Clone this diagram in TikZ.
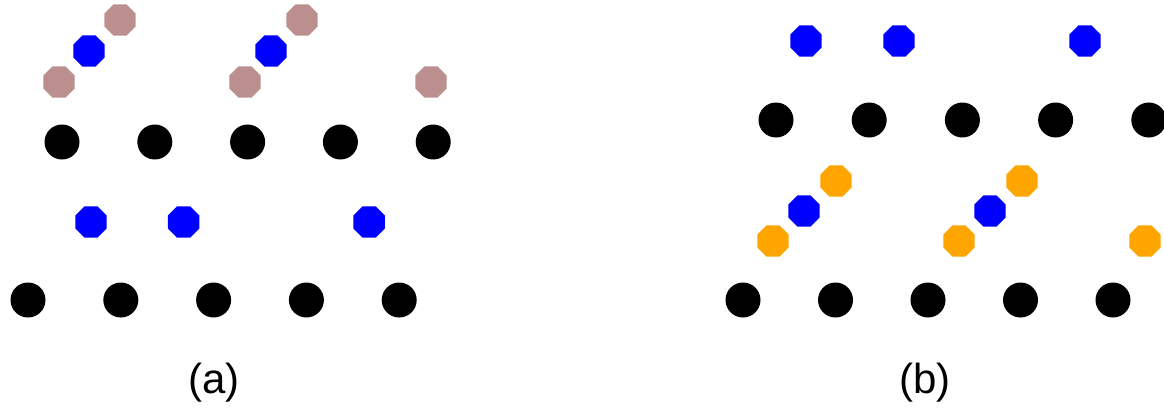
\documentclass[tikz,border=0pt]{standalone}
\usepackage{fontspec}
\setmainfont{Liberation Sans}
\usetikzlibrary{shapes.geometric}
\definecolor{atom}{HTML}{000000}
\definecolor{ion}{HTML}{0000FF}
\definecolor{rose}{HTML}{BC8F8F}
\definecolor{amber}{HTML}{FFA500}
\tikzset{
  site/.style={circle,fill=atom,draw=none,minimum size=35pt,inner sep=0pt},
  guest/.style={regular polygon,regular polygon sides=8,fill=#1,draw=none,minimum size=34pt,inner sep=0pt},
  tag/.style={font=\fontsize{42}{48}\selectfont,anchor=base,inner sep=0pt}
}

\begin{document}
\begin{tikzpicture}[x=1pt,y=-1pt]
        \useasboundingbox (0,0) rectangle (1164,407);
        % panel (a)
        \foreach \i in {0,...,4} {
          \node[site] (a-up\i) at ({62+92.8*\i},142) {};
          \node[site] (a-lo\i) at ({28+92.8*\i},300) {};
        }
        \foreach \i in {0,1,3}
          \node[guest=ion] (a-mid\i) at ({91+92.7*\i},222) {};
        \node[guest=rose] (a-r1) at (59,82) {};
        \node[guest=ion]  (a-b1) at (89,51) {};
        \node[guest=rose] (a-r2) at (120,20) {};
        \node[guest=rose] (a-r3) at (245,82) {};
        \node[guest=ion]  (a-b2) at (271,51) {};
        \node[guest=rose] (a-r4) at (302,20) {};
        \node[guest=rose] (a-r5) at (431,82) {};
        \node[tag] (a-tag) at (214,393) {(a)};
        % panel (b)
        \foreach \i in {0,1,3}
          \node[guest=ion] (b-top\i) at ({806+93*\i},41) {};
        \foreach \i in {0,...,4} {
          \node[site] (b-up\i) at ({776+93.2*\i},120) {};
          \node[site] (b-lo\i) at ({743+92.5*\i},300) {};
        }
        \node[guest=amber] (b-o1) at (773,241) {};
        \node[guest=ion]   (b-b1) at (804,211) {};
        \node[guest=amber] (b-o2) at (836,181) {};
        \node[guest=amber] (b-o3) at (959,241) {};
        \node[guest=ion]   (b-b2) at (990,211) {};
        \node[guest=amber] (b-o4) at (1022,181) {};
        \node[guest=amber] (b-o5) at (1145,241) {};
        \node[tag] (b-tag) at (925,393) {(b)};
      \end{tikzpicture}
\end{document}
